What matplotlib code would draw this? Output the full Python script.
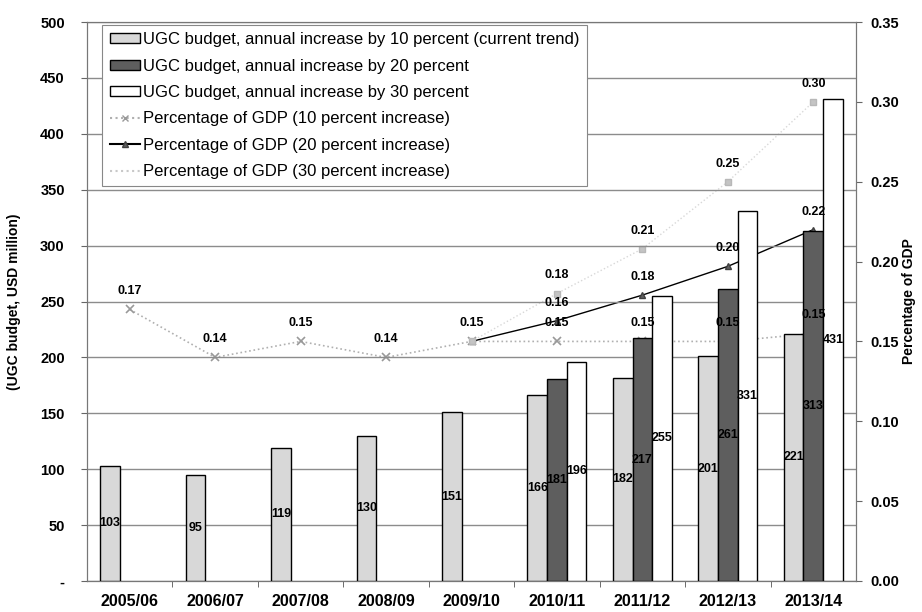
import numpy as np
import matplotlib
matplotlib.use("Agg")
import matplotlib.pyplot as plt
from matplotlib.lines import Line2D
from matplotlib.patches import Patch

# data
years = ["2005/06", "2006/07", "2007/08", "2008/09", "2009/10",
         "2010/11", "2011/12", "2012/13", "2013/14"]
budget_10 = [103, 95, 119, 130, 151, 166, 182, 201, 221]
budget_20 = [np.nan] * 5 + [181, 217, 261, 313]
budget_30 = [np.nan] * 5 + [196, 255, 331, 431]
gdp_10 = [0.17, 0.14, 0.15, 0.14, 0.15, 0.15, 0.15, 0.15, 0.155]
gdp_20 = [np.nan] * 4 + [0.15, 0.163, 0.179, 0.197, 0.220]
gdp_30 = [np.nan] * 4 + [0.15, 0.18, 0.208, 0.25, 0.30]
gdp_10_labels = ["0.17", "0.14", "0.15", "0.14", "0.15", "0.15", "0.15", "0.15", "0.15"]
gdp_20_labels = [None] * 5 + ["0.16", "0.18", "0.20", "0.22"]
gdp_30_labels = [None] * 5 + ["0.18", "0.21", "0.25", "0.30"]

plt.rcParams['font.family'] = ['Liberation Sans', 'DejaVu Sans']

fig = plt.figure(figsize=(9.22, 6.12), dpi=100)
ax = fig.add_axes([87 / 922, 1 - 581 / 612, (856 - 87) / 922, (581 - 22) / 612])
ax2 = ax.twinx()
# bars go on top of the GDP lines
ax.set_zorder(2)
ax.patch.set_visible(False)
ax2.set_zorder(1)

x = np.arange(len(years))
w = 0.23

# GDP lines (right axis)
ax2.plot(x, gdp_10, linestyle=':', color='#b0b0b0', lw=1.2, marker='x', ms=6,
         mec='#999999', mew=1.2)
ax2.plot(x, gdp_20, linestyle='-', color='black', lw=1.0, marker='^', ms=5,
         mfc='#606060', mec='#404040')
ax2.plot(x, gdp_30, linestyle=':', color='#d8d8d8', lw=1.0, marker='s', ms=5,
         mfc='#c4c4c4', mec='#b8b8b8')
ax2.set_ylim(0, 0.35)
ax2.set_yticks(np.arange(0, 0.351, 0.05))
ax2.set_yticklabels([f"{v:.2f}" for v in np.arange(0, 0.351, 0.05)])
ax2.set_ylabel("Percentage of GDP", fontsize=10, fontweight='bold', labelpad=2)

# bars (left axis)
b10 = ax.bar(x - w, budget_10, w, color='#d8d8d8', edgecolor='black', lw=1, zorder=3)
b20 = ax.bar(x, budget_20, w, color='#5e5e5e', edgecolor='black', lw=1, zorder=3)
b30 = ax.bar(x + w, budget_30, w, color='white', edgecolor='black', lw=1, zorder=3)
for bars in (b10, b20, b30):
    ax.bar_label(bars, label_type='center', fontsize=9, fontweight='bold', zorder=5)

# GDP value labels
for series, labels in ((gdp_10, gdp_10_labels), (gdp_20, gdp_20_labels), (gdp_30, gdp_30_labels)):
    for i, (v, lab) in enumerate(zip(series, labels)):
        if lab is None:
            continue
        ax.annotate(lab, (x[i], v), xycoords=ax2.transData, xytext=(0, 13),
                    textcoords='offset points', ha='center', va='center',
                    fontsize=9, fontweight='bold', zorder=6)

ax.set_xlim(-0.5, len(years) - 0.5)
ax.set_ylim(0, 500)
ax.set_yticks(range(0, 501, 50))
ax.set_yticklabels(['-' if v == 0 else str(v) for v in range(0, 501, 50)])
ax.set_ylabel("(UGC budget, USD million)", fontsize=10, fontweight='bold', labelpad=14)
ax.set_xticks(x)
ax.set_xticklabels(years)
ax.set_xticks(x[:-1] + 0.5, minor=True)
ax.tick_params(axis='x', which='major', length=0, pad=9)
ax.tick_params(axis='x', which='minor', length=4, direction='out', color='#555555')
ax.tick_params(axis='y', pad=12)
ax2.tick_params(axis='y', pad=6)
ax.yaxis.grid(True, color='#8c8c8c', lw=1, zorder=0)
ax.set_axisbelow(True)

for a in (ax, ax2):
    for lab in a.get_yticklabels():
        lab.set_fontweight('bold')
        lab.set_fontsize(10.5)
    a.tick_params(axis='y', length=4, color='#666666')
    for s in a.spines.values():
        s.set_color('#777777')
for lab in ax.get_xticklabels():
    lab.set_fontweight('bold')
    lab.set_fontsize(11.5)
ax2.spines['bottom'].set_color('#444444')

handles = [
    Patch(facecolor='#d8d8d8', edgecolor='black'),
    Patch(facecolor='#5e5e5e', edgecolor='black'),
    Patch(facecolor='white', edgecolor='black'),
    Line2D([], [], linestyle=':', color='#b0b0b0', marker='x', ms=5, mec='#999999'),
    Line2D([], [], linestyle='-', color='black', marker='^', ms=5, mfc='#606060', mec='#404040'),
    Line2D([], [], linestyle=':', color='#c8c8c8'),
]
labels = [
    "UGC budget, annual increase by 10 percent (current trend)",
    "UGC budget, annual increase by 20 percent",
    "UGC budget, annual increase by 30 percent",
    "Percentage of GDP (10 percent increase)",
    "Percentage of GDP (20 percent increase)",
    "Percentage of GDP (30 percent increase)",
]
leg = ax.legend(handles, labels, loc='upper left', bbox_to_anchor=(0.02, 0.995),
                fontsize=12, frameon=True, fancybox=False, framealpha=1,
                edgecolor='#888888', handlelength=1.8, handleheight=0.55,
                handletextpad=0.2, labelspacing=0.68, borderpad=0.45, borderaxespad=0)
leg.get_frame().set_linewidth(0.8)
leg.set_zorder(10)

fig.savefig("out.png", dpi=100)
